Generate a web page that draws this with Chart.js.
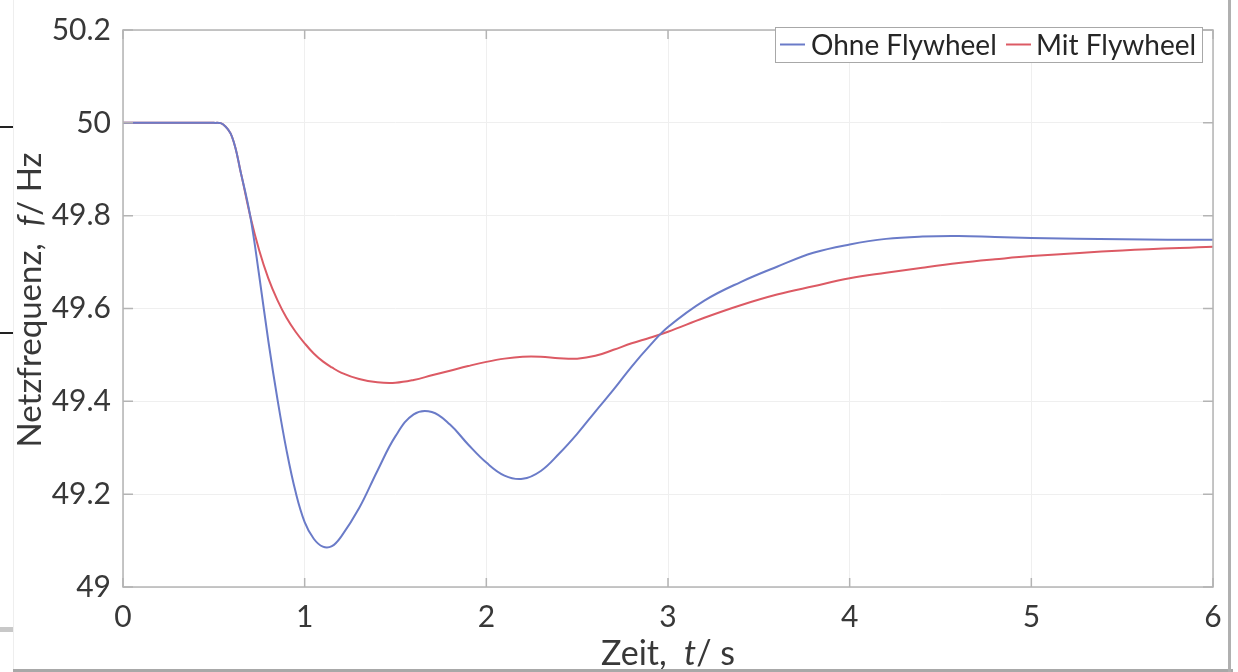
<!DOCTYPE html>
<html>
<head>
<meta charset="utf-8">
<title>Netzfrequenz mit und ohne Flywheel</title>
<script src="https://cdn.jsdelivr.net/npm/chart.js@4.4.1/dist/chart.umd.min.js"></script>
<style>
  html, body { margin: 0; padding: 0; background: #fff; }
  #wrap { position: relative; width: 1238px; height: 672px; overflow: hidden; }
  #freq-chart { position: absolute; left: 0; top: 0; }
  .edge { position: absolute; }
</style>
</head>
<body>
<div id="wrap">
  <canvas id="freq-chart" width="1238" height="672"></canvas>
  <!-- Rand des Screenshots -->
  <div class="edge" style="left:13px;top:0;width:1px;height:672px;background:#eeeeee"></div>
  <div class="edge" style="left:0;top:126px;width:13px;height:2px;background:#222"></div>
  <div class="edge" style="left:0;top:332px;width:13px;height:2px;background:#222"></div>
  <div class="edge" style="left:0;top:627px;width:13px;height:5px;background:#c8c8c8"></div>
  <div class="edge" style="left:13px;top:669px;width:1220px;height:3px;background:#a8a8a8"></div>
  <div class="edge" style="left:1228px;top:0;width:3px;height:672px;background:#b0b0b0"></div>
</div>
<script>
// Daten
const timeS = [0, 0.45, 0.5, 0.55, 0.6, 0.65, 0.7, 0.75, 0.8, 0.85, 0.9, 0.95, 1.0, 1.05, 1.1, 1.15, 1.2,
  1.3, 1.4, 1.5, 1.6, 1.7, 1.8, 1.9, 2.0, 2.1, 2.2, 2.3, 2.4, 2.5, 2.6, 2.7, 2.8, 2.9, 3.0,
  3.2, 3.4, 3.6, 3.8, 4.0, 4.2, 4.4, 4.6, 4.8, 5.0, 5.5, 6.0];

const ohneFlywheel = [50, 50, 50, 49.997, 49.97, 49.89, 49.80, 49.67, 49.53, 49.405, 49.295, 49.205, 49.14, 49.104, 49.087, 49.088, 49.108,
  49.17, 49.25, 49.325, 49.372, 49.377, 49.35, 49.307, 49.268, 49.24, 49.233, 49.25, 49.287, 49.33, 49.378, 49.425, 49.475, 49.52, 49.56,
  49.617, 49.657, 49.69, 49.72, 49.738, 49.75, 49.755, 49.756, 49.754, 49.752, 49.749, 49.748];

const mitFlywheel = [50, 50, 50, 49.997, 49.97, 49.89, 49.80, 49.725, 49.665, 49.618, 49.58, 49.55, 49.525, 49.503, 49.486, 49.473, 49.462,
  49.448, 49.441, 49.44, 49.446, 49.456, 49.466, 49.476, 49.485, 49.492, 49.496, 49.496, 49.493, 49.492, 49.498, 49.511, 49.525, 49.537, 49.55,
  49.58, 49.607, 49.63, 49.648, 49.665, 49.677, 49.688, 49.698, 49.706, 49.713, 49.725, 49.733];

const seriesNames = ['Ohne Flywheel', 'Mit Flywheel'];
const seriesColors = ['#6a7bc8', '#dc5a64'];
const xTicks = [0, 1, 2, 3, 4, 5, 6];
const yTicks = [49, 49.2, 49.4, 49.6, 49.8, 50, 50.2];

const FONT = 'Lato, "Open Sans", sans-serif';
const TEXT_COLOR = '#383838';
const AXIS_COLOR = '#b4b4b4';

// Text mit kursiven Teilen zeichnen
function drawMixed(ctx, parts, x, y, size) {
  let total = 0;
  parts.forEach(p => {
    ctx.font = (p[1] ? 'italic ' : '') + size + 'px ' + FONT;
    total += ctx.measureText(p[0]).width;
  });
  let cx = x - total / 2;
  parts.forEach(p => {
    ctx.font = (p[1] ? 'italic ' : '') + size + 'px ' + FONT;
    ctx.fillText(p[0], cx, y);
    cx += ctx.measureText(p[0]).width;
  });
}

const frameplugin = {
  id: 'matlabFrame',
  afterDraw(chart) {
    const ctx = chart.ctx;
    const a = chart.chartArea;
    const xs = chart.scales.x;
    const ys = chart.scales.y;
    ctx.save();

    // Rahmen + Ticks nach innen
    ctx.strokeStyle = AXIS_COLOR;
    ctx.lineWidth = 1.5;
    ctx.strokeRect(a.left, a.top, a.right - a.left, a.bottom - a.top);
    ctx.beginPath();
    xTicks.forEach(t => {
      const px = xs.getPixelForValue(t);
      ctx.moveTo(px, a.bottom); ctx.lineTo(px, a.bottom - 9);
      ctx.moveTo(px, a.top); ctx.lineTo(px, a.top + 9);
    });
    yTicks.forEach(v => {
      const py = ys.getPixelForValue(v);
      ctx.moveTo(a.left, py); ctx.lineTo(a.left + 10, py);
      ctx.moveTo(a.right, py); ctx.lineTo(a.right - 10, py);
    });
    ctx.stroke();

    // Legende
    const lx = 775, ly = 27, lw = 427, lh = 35;
    ctx.fillStyle = '#fff';
    ctx.fillRect(lx, ly, lw, lh);
    ctx.strokeStyle = '#a8a8a8';
    ctx.lineWidth = 1;
    ctx.strokeRect(lx + 0.5, ly + 0.5, lw, lh);
    const items = [[780, 805, 811], [1006, 1031, 1036]];
    ctx.font = '28px ' + FONT;
    ctx.textBaseline = 'middle';
    ctx.textAlign = 'left';
    items.forEach((it, i) => {
      ctx.strokeStyle = seriesColors[i];
      ctx.lineWidth = 2;
      ctx.beginPath();
      ctx.moveTo(it[0], ly + lh / 2);
      ctx.lineTo(it[1], ly + lh / 2);
      ctx.stroke();
      ctx.fillStyle = '#262626';
      ctx.fillText(seriesNames[i], it[2], ly + lh / 2 + 1);
    });

    // Achsentitel
    ctx.fillStyle = TEXT_COLOR;
    ctx.textAlign = 'left';
    ctx.textBaseline = 'alphabetic';
    drawMixed(ctx, [['Zeit,  ', false], ['t', true], ['/ s', false]], xs.getPixelForValue(3), 665, 34);

    ctx.translate(41, 300);
    ctx.rotate(-Math.PI / 2);
    drawMixed(ctx, [['Netzfrequenz,  ', false], ['f', true], ['/ Hz', false]], 0, 0, 33);

    ctx.restore();
  }
};

const datasets = [ohneFlywheel, mitFlywheel].map((vals, i) => ({
  label: seriesNames[i],
  data: timeS.map((t, k) => ({ x: t, y: vals[k] })),
  borderColor: seriesColors[i],
  borderWidth: 2,
  pointRadius: 0,
  fill: false,
  tension: 0.4
}));

new Chart(document.getElementById('freq-chart'), {
  type: 'line',
  data: { datasets },
  options: {
    responsive: false,
    animation: false,
    layout: { padding: { left: 0, right: 25, top: 19, bottom: 0 } },
    plugins: {
      legend: { display: false },
      tooltip: { enabled: false }
    },
    scales: {
      x: {
        type: 'linear',
        min: 0,
        max: 6,
        afterFit(scale) { scale.height = 85; },
        afterBuildTicks(scale) { scale.ticks = xTicks.map(v => ({ value: v })); },
        ticks: {
          color: TEXT_COLOR,
          font: { family: FONT, size: 30 },
          padding: 12,
          maxRotation: 0,
          callback: v => String(v)
        },
        grid: { color: '#efefef', drawTicks: false },
        border: { display: false }
      },
      y: {
        type: 'linear',
        min: 49,
        max: 50.2,
        afterFit(scale) { scale.width = 123; },
        afterBuildTicks(scale) { scale.ticks = yTicks.map(v => ({ value: v })); },
        ticks: {
          color: TEXT_COLOR,
          font: { family: FONT, size: 30 },
          padding: 12,
          callback: v => String(+v.toFixed(1))
        },
        grid: { color: '#efefef', drawTicks: false },
        border: { display: false }
      }
    }
  },
  plugins: [frameplugin]
});
</script>
</body>
</html>
